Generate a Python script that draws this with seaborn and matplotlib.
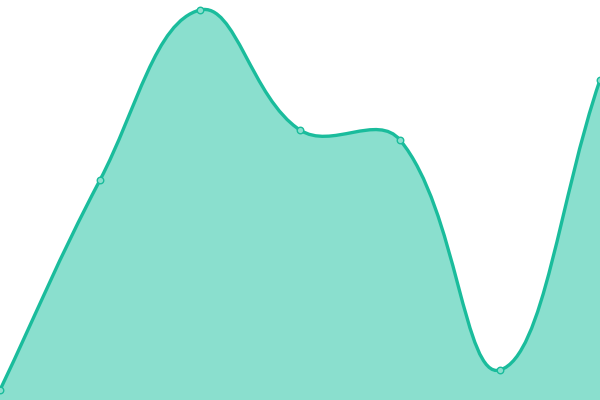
import numpy as np
import matplotlib
matplotlib.use("Agg")
import matplotlib.pyplot as plt
import seaborn as sns
from matplotlib.path import Path
from matplotlib.patches import PathPatch

# values (bottom = 0, top = 400)
labels = ["A", "B", "C", "D", "E", "F", "G"]
values = [10, 220, 390, 270, 260, 30, 320]

LINE = "#1abc9c"
FILL = "#8adfce"


def spline_controls(xs, ys, t=0.4):
    # chart.js style bezier control points
    n = len(xs)
    pts = list(zip(xs, ys))
    ctrl = []
    for i in range(n):
        prev = pts[max(i - 1, 0)]
        cur = pts[i]
        nxt = pts[min(i + 1, n - 1)]
        d01 = np.hypot(cur[0] - prev[0], cur[1] - prev[1])
        d12 = np.hypot(nxt[0] - cur[0], nxt[1] - cur[1])
        s01 = d01 / (d01 + d12) if d01 + d12 else 0
        s12 = d12 / (d01 + d12) if d01 + d12 else 0
        fa, fb = t * s01, t * s12
        cp_prev = (cur[0] - fa * (nxt[0] - prev[0]), cur[1] - fa * (nxt[1] - prev[1]))
        cp_next = (cur[0] + fb * (nxt[0] - prev[0]), cur[1] + fb * (nxt[1] - prev[1]))
        ctrl.append((cp_prev, cp_next))
    return pts, ctrl


sns.set_theme(style="white")
fig = plt.figure(figsize=(6, 4), dpi=100)
ax = fig.add_axes([0, 0, 1, 1])

x = np.arange(len(values)) * 100.0
pts, ctrl = spline_controls(x, values)

verts = [pts[0]]
codes = [Path.MOVETO]
for i in range(1, len(pts)):
    verts += [ctrl[i - 1][1], ctrl[i][0], pts[i]]
    codes += [Path.CURVE4] * 3

fill_verts = verts + [(x[-1], 0), (x[0], 0), pts[0]]
fill_codes = codes + [Path.LINETO, Path.LINETO, Path.CLOSEPOLY]
ax.add_patch(PathPatch(Path(fill_verts, fill_codes), facecolor=FILL, edgecolor="none", zorder=1))
ax.add_patch(PathPatch(Path(verts, codes), facecolor="none", edgecolor=LINE, lw=2.4, zorder=2))

sns.scatterplot(x=x, y=values, ax=ax, s=22, color=FILL, edgecolor=LINE, linewidth=1, zorder=3, clip_on=False)

ax.set_xlim(0, 600)
ax.set_ylim(0, 400)
ax.axis("off")
fig.savefig("out.png", dpi=100)
